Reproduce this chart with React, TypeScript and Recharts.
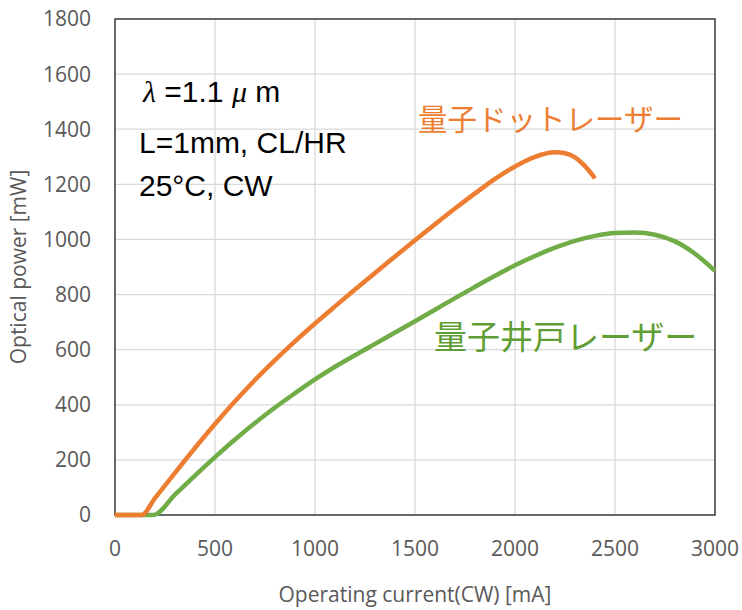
import { LineChart, Line, XAxis, YAxis, CartesianGrid, ReferenceArea } from "recharts";

// quantum dot laser (orange)
const dotCurrent = [0, 133, 200, 300, 400, 500, 600, 700, 800, 900, 1000, 1100, 1200, 1300, 1400, 1500, 1600, 1700, 1800, 1900, 2000, 2100, 2200, 2250, 2300, 2350, 2400];
const dotPower = [0, 0, 61, 153, 243, 330, 413, 490, 562, 630, 695, 757, 818, 878, 938, 997, 1055, 1112, 1167, 1220, 1265, 1300, 1316, 1313, 1298, 1266, 1222];

// quantum well laser (green)
const wellCurrent = [0, 192, 300, 400, 500, 600, 700, 800, 900, 1000, 1100, 1200, 1300, 1400, 1500, 1600, 1700, 1800, 1900, 2000, 2100, 2200, 2300, 2400, 2500, 2600, 2700, 2800, 2900, 3000];
const wellPower = [0, 0, 74, 143, 210, 274, 334, 390, 442, 492, 538, 580, 621, 662, 703, 745, 787, 828, 868, 906, 940, 970, 995, 1013, 1023, 1025, 1017, 993, 948, 886];

const xTicks = [0, 500, 1000, 1500, 2000, 2500, 3000];
const yTicks = [0, 200, 400, 600, 800, 1000, 1200, 1400, 1600, 1800];

const dotData = dotCurrent.map((x, i) => ({ x, y: dotPower[i] }));
const wellData = wellCurrent.map((x, i) => ({ x, y: wellPower[i] }));

const tickStyle = { fill: "#595959", fontSize: 21, fontFamily: "Open Sans" };

export default function App() {
  return (
    <div style={{ position: "absolute", left: 0, top: 0, width: 742, height: 610, background: "#fff" }}>
      <LineChart width={742} height={610} margin={{ top: 19, right: 27, bottom: 0, left: 0 }}>
        <CartesianGrid stroke="#d9d9d9" strokeWidth={1.3} />
        <XAxis
          type="number"
          dataKey="x"
          domain={[0, 3000]}
          ticks={xTicks}
          height={95}
          tickLine={false}
          axisLine={false}
          tickSize={0}
          tickMargin={26}
          tick={tickStyle}
          label={{ value: "Operating current(CW) [mA]", position: "center", dy: 32, fill: "#595959", fontSize: 21, fontFamily: "Open Sans" }}
        />
        <YAxis
          type="number"
          dataKey="y"
          domain={[0, 1800]}
          ticks={yTicks}
          width={115}
          tickLine={false}
          axisLine={false}
          tickSize={0}
          tickMargin={24}
          tick={tickStyle}
          label={{ value: "Optical power [mW]", position: "center", angle: -90, dx: -39, fill: "#595959", fontSize: 21, fontFamily: "Open Sans" }}
        />
        <ReferenceArea x1={0} x2={3000} y1={0} y2={1800} fill="none" stroke="#404040" strokeWidth={1.5} />
        <Line data={wellData} dataKey="y" type="monotone" stroke="#70AD47" strokeWidth={4.5} dot={false} isAnimationActive={false} />
        <Line data={dotData} dataKey="y" type="monotone" stroke="#ED7D31" strokeWidth={4.5} dot={false} isAnimationActive={false} />
      </LineChart>
      <svg width={742} height={610} style={{ position: "absolute", left: 0, top: 0, pointerEvents: "none" }}>
        <g fontFamily="Liberation Sans" fontSize={30} fill="#000">
          <text x={143} y={102}>
            <tspan fontFamily="Liberation Serif" fontStyle="italic">λ</tspan>
            <tspan> =1.1 </tspan>
            <tspan fontFamily="Liberation Serif" fontStyle="italic">μ</tspan>
            <tspan> m</tspan>
          </text>
          <text x={139} y={153}>L=1mm, CL/HR</text>
          <text x={139} y={196}>25°C, CW</text>
        </g>
        <text x={418} y={130} fontFamily="Noto Sans CJK JP" fontSize={29.5} fill="#ED7D31">量子ドットレーザー</text>
        <text x={434} y={349} fontFamily="Noto Sans CJK JP" fontSize={33} fill="#5F9E35">量子井戸レーザー</text>
      </svg>
    </div>
  );
}
